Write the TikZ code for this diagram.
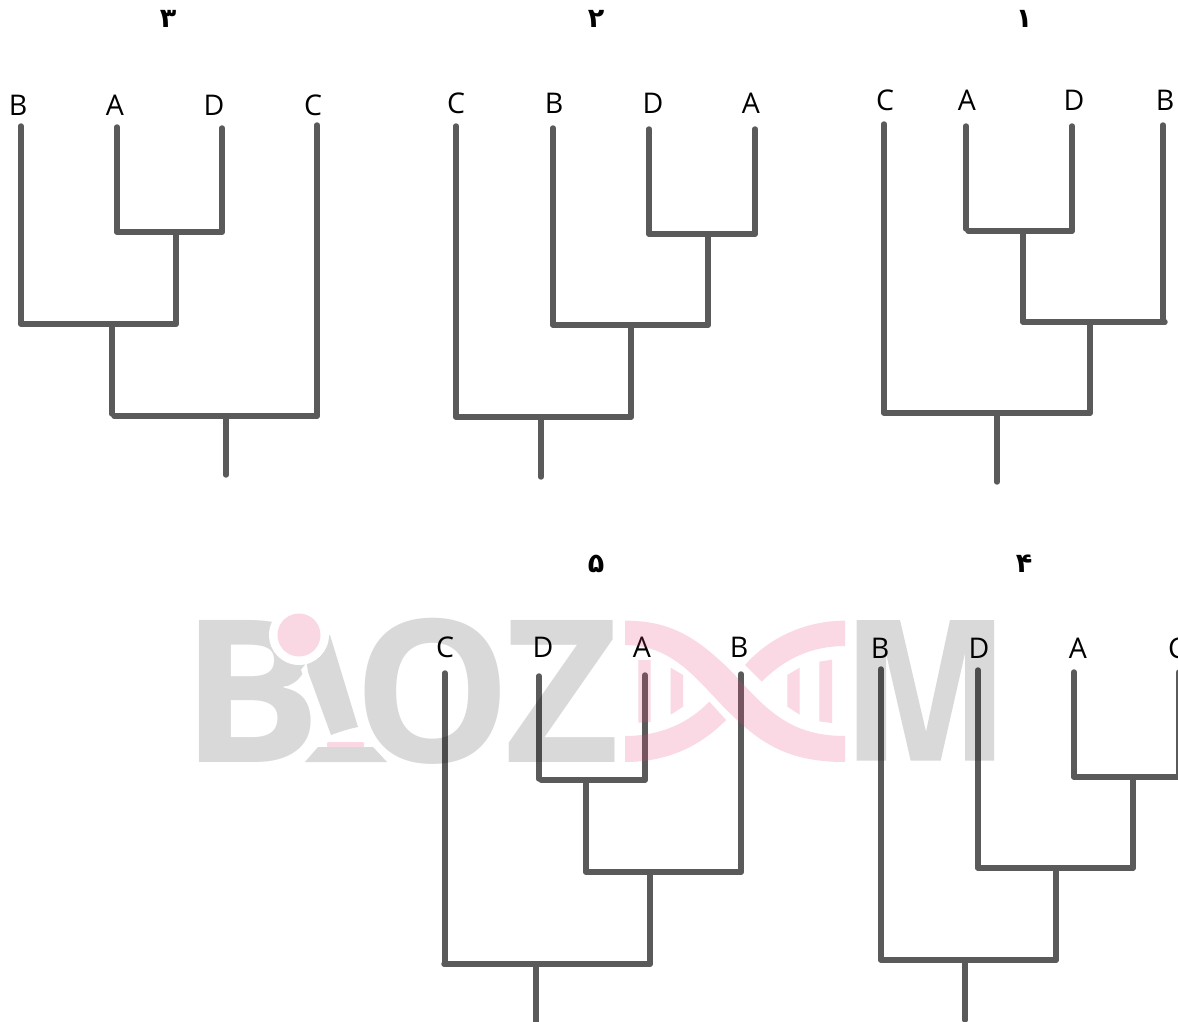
\documentclass[tikz,border=0pt]{standalone}
\usepackage{fontspec}
\usepackage{graphicx}
\setmainfont{Open Sans}
\newfontfamily\digitfont[Script=Arabic]{DejaVu Sans Bold}
\newfontfamily\logofont{Open Sans}[BoldFont={Open Sans Bold}]
\definecolor{branchcol}{HTML}{5A5A5A}
\definecolor{logogray}{HTML}{D9D9D9}
\definecolor{logopink}{HTML}{F9D8E3}
\definecolor{pinkbase}{RGB}{230,60,120}
\tikzset{
  branch/.style={draw=branchcol,line width=5.4pt,line cap=round},
  taxon/.style={font=\fontsize{28.5}{30}\selectfont,text=black,inner sep=0pt},
  treetitle/.style={font=\digitfont\fontsize{27}{29}\selectfont,text=black,inner sep=0pt},
  logoletter/.style={font=\logofont\bfseries\fontsize{199}{200}\selectfont,text=black,text opacity=.15,inner sep=0pt,anchor=base west},
  dnapink/.style={fill=pinkbase,fill opacity=.2,draw=none}
}
\begin{document}
\begin{tikzpicture}[x=1pt,y=-1pt]
\useasboundingbox (0,0) rectangle (1178,1022);
\clip (0,0) rectangle (1178,1022);
\fill[white] (0,0) rectangle (1178,1022);
% titles
\node[treetitle] (title3) at (168,18.5) {۳};
\node[treetitle] (title2) at (596,18.5) {۲};
\node[treetitle] (title1) at (1024,18.5) {۱};
\node[treetitle] (title5) at (596,564) {۵};
\node[treetitle] (title4) at (1024,564) {۴};
% tree 3
\node[taxon] (c3B) at (18,105) {B};
\node[taxon] (c3A) at (115,105) {A};
\node[taxon] (c3D) at (214,105) {D};
\node[taxon] (c3C) at (313,105) {C};
\coordinate (a1) at (21,126); \coordinate (a2) at (21,324);
\coordinate (a3) at (117,127); \coordinate (a4) at (117,232);
\coordinate (a5) at (222,128); \coordinate (a6) at (222,232);
\coordinate (a7) at (176,232); \coordinate (a8) at (176,324);
\coordinate (a9) at (112,324); \coordinate (a10) at (112,414);
\coordinate (a11) at (114,416); \coordinate (a12) at (317,416);
\coordinate (a13) at (317,125); \coordinate (a14) at (226,416); \coordinate (a15) at (226,475);
\draw[branch] (a1)--(a2); \draw[branch] (a3)--(a4); \draw[branch] (a5)--(a6);
\draw[branch] (a4)--(a6); \draw[branch] (a7)--(a8); \draw[branch] (a2)--(a8);
\draw[branch] (a9)--(a10); \draw[branch] (a11)--(a12); \draw[branch] (a13)--(a12);
\draw[branch] (a14)--(a15);
% tree 2
\node[taxon] (c2C) at (456,103) {C};
\node[taxon] (c2B) at (554,103) {B};
\node[taxon] (c2D) at (653,103) {D};
\node[taxon] (c2A) at (751,103) {A};
\coordinate (b1) at (456,126); \coordinate (b2) at (456,417);
\coordinate (b3) at (553,128); \coordinate (b4) at (553,325);
\coordinate (b5) at (649,129); \coordinate (b6) at (649,234);
\coordinate (b7) at (755,129); \coordinate (b8) at (755,234);
\coordinate (b9) at (708,234); \coordinate (b10) at (708,325);
\coordinate (b11) at (631,325); \coordinate (b12) at (631,417);
\coordinate (b13) at (541,417); \coordinate (b14) at (541,477);
\draw[branch] (b1)--(b2); \draw[branch] (b3)--(b4); \draw[branch] (b5)--(b6);
\draw[branch] (b7)--(b8); \draw[branch] (b6)--(b8); \draw[branch] (b9)--(b10);
\draw[branch] (b4)--(b10); \draw[branch] (b11)--(b12); \draw[branch] (b2)--(b12);
\draw[branch] (b13)--(b14);
% tree 1
\node[taxon] (c1C) at (885,100) {C};
\node[taxon] (c1A) at (967,100) {A};
\node[taxon] (c1D) at (1074,100) {D};
\node[taxon] (c1B) at (1165,100) {B};
\coordinate (d1) at (884,124); \coordinate (d2) at (884,413);
\coordinate (d3) at (966,126); \coordinate (d4) at (966,229);
\coordinate (d5) at (1072,126); \coordinate (d6) at (1072,231);
\coordinate (d7) at (968,231); \coordinate (d8) at (1023,231);
\coordinate (d9) at (1023,322); \coordinate (d10) at (1163,125);
\coordinate (d11) at (1163,322); \coordinate (d12) at (1165,322);
\coordinate (d13) at (1090,322); \coordinate (d14) at (1090,413);
\coordinate (d15) at (997,413); \coordinate (d16) at (997,482);
\draw[branch] (d1)--(d2); \draw[branch] (d3)--(d4); \draw[branch] (d5)--(d6);
\draw[branch] (d7)--(d6); \draw[branch] (d8)--(d9); \draw[branch] (d10)--(d11);
\draw[branch] (d9)--(d12); \draw[branch] (d13)--(d14); \draw[branch] (d2)--(d14);
\draw[branch] (d15)--(d16);
% tree 5
\node[taxon] (c5C) at (445,647) {C};
\node[taxon] (c5D) at (543,647) {D};
\node[taxon] (c5A) at (642,647) {A};
\node[taxon] (c5B) at (739,647) {B};
\coordinate (e1) at (445,673); \coordinate (e2) at (445,964);
\coordinate (e3) at (539,676); \coordinate (e4) at (539,779);
\coordinate (e5) at (645,675); \coordinate (e6) at (645,780);
\coordinate (e7) at (541,780); \coordinate (e8) at (586,780);
\coordinate (e9) at (586,872); \coordinate (e10) at (741,674);
\coordinate (e11) at (741,872); \coordinate (e12) at (650,872);
\coordinate (e13) at (650,964); \coordinate (e14) at (444,964);
\coordinate (e15) at (536,964); \coordinate (e16) at (536,1024);
\draw[branch] (e1)--(e2); \draw[branch] (e3)--(e4); \draw[branch] (e5)--(e6);
\draw[branch] (e7)--(e6); \draw[branch] (e8)--(e9); \draw[branch] (e10)--(e11);
\draw[branch] (e9)--(e11); \draw[branch] (e12)--(e13); \draw[branch] (e14)--(e13);
\draw[branch] (e15)--(e16);
% tree 4
\node[taxon] (c4B) at (880,648) {B};
\node[taxon] (c4D) at (979,648) {D};
\node[taxon] (c4A) at (1078,648) {A};
\node[taxon] (c4C) at (1177,648) {C};
\coordinate (f1) at (881,669); \coordinate (f2) at (881,960);
\coordinate (f3) at (978,670); \coordinate (f4) at (978,868);
\coordinate (f5) at (1074,672); \coordinate (f6) at (1074,777);
\coordinate (f7) at (1179,672); \coordinate (f8) at (1179,777);
\coordinate (f9) at (1133,777); \coordinate (f10) at (1133,868);
\coordinate (f11) at (1056,868); \coordinate (f12) at (1056,960);
\coordinate (f13) at (965,960); \coordinate (f14) at (965,1020);
\draw[branch] (f1)--(f2); \draw[branch] (f3)--(f4); \draw[branch] (f5)--(f6);
\draw[branch] (f7)--(f8); \draw[branch] (f6)--(f8); \draw[branch] (f9)--(f10);
\draw[branch] (f4)--(f10); \draw[branch] (f11)--(f12); \draw[branch] (f2)--(f12);
\draw[branch] (f13)--(f14);
% watermark
\node[logoletter,text opacity=1,text=logogray] (logoB) at (180,762) {\scalebox{1.06}[1]{B}};
\fill[logogray] (281,658) .. controls (281,670) and (272,676) .. (262,676) -- (288,686) -- (308,662) -- cycle;
\fill[white] (330,632) -- (362,727) -- (331,742) -- (301,670) -- cycle;
\fill[logogray] (330,635) -- (358,727) .. controls (348,729) and (339,732) .. (331,735) -- (308,672) -- (305,650) -- cycle;
\fill[white] (299,635) circle (30);
\fill[logopink] (299,635) circle (21.5);
\fill[logopink,rounded corners=1pt] (327,742) rectangle (364,747);
\fill[logogray] (318,747) -- (373,747) -- (387,762) -- (305,762) -- cycle;
\node[logoletter] (logoO) at (353.5,762) {O};
\node[logoletter] (logoZ) at (504.5,762) {Z};
\begin{scope}[shift={(850,610)},x=1pt/3,y=-1pt/3]
\fill[black,fill opacity=.15] (20,30) -- (150,30) -- (228,365) -- (300,30) -- (432,30) -- (432,452) -- (345,452) -- (345,130) -- (272,452) -- (182,452) -- (108,130) -- (108,452) -- (20,452) -- cycle;
\end{scope}
\begin{scope}[shift={(610,600)},x=1pt/3,y=-1pt/3]
\path[dnapink] (45,62) .. controls (180,62) and (260,110) .. (370,220) .. controls (470,330) and (540,408) .. (705,408) -- (705,486) .. controls (520,486) and (440,420) .. (340,320) .. controls (250,225) and (180,135) .. (45,135) -- cycle;
\path[dnapink] (705,62) -- (705,138) .. controls (600,138) and (520,180) .. (455,245) -- (405,195) .. controls (480,110) and (590,62) .. (705,62) -- cycle;
\path[dnapink] (45,408) .. controls (150,408) and (235,370) .. (298,305) -- (348,360) .. controls (270,440) and (170,486) .. (45,486) -- cycle;
\path[dnapink] (85,180) -- (122,180) -- (122,366) -- (85,368) -- cycle;
\path[dnapink] (182,203) -- (219,225) -- (219,320) -- (182,344) -- cycle;
\path[dnapink] (532,225) -- (569,203) -- (569,344) -- (532,320) -- cycle;
\path[dnapink] (628,185) -- (666,179) -- (666,369) -- (628,364) -- cycle;
\end{scope}
\end{tikzpicture}
\end{document}
